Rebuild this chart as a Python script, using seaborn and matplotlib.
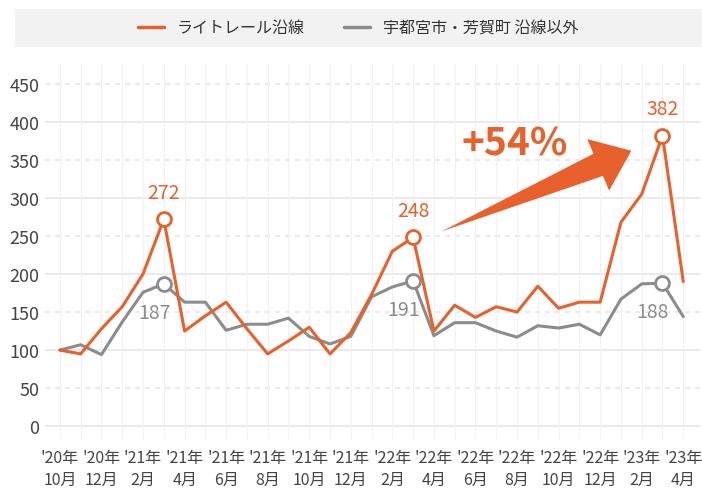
import numpy as np
import pandas as pd
import matplotlib
matplotlib.use("Agg")
import matplotlib.pyplot as plt
from matplotlib.patches import Rectangle, Polygon
from matplotlib.lines import Line2D
from matplotlib.transforms import IdentityTransform
import seaborn as sns

# monthly index, '20年10月 = 100
months = ["'20年\n10月", "'20年\n11月", "'20年\n12月", "'21年\n1月", "'21年\n2月", "'21年\n3月",
          "'21年\n4月", "'21年\n5月", "'21年\n6月", "'21年\n7月", "'21年\n8月", "'21年\n9月",
          "'21年\n10月", "'21年\n11月", "'21年\n12月", "'22年\n1月", "'22年\n2月", "'22年\n3月",
          "'22年\n4月", "'22年\n5月", "'22年\n6月", "'22年\n7月", "'22年\n8月", "'22年\n9月",
          "'22年\n10月", "'22年\n11月", "'22年\n12月", "'23年\n1月", "'23年\n2月", "'23年\n3月",
          "'23年\n4月"]
light_rail = [100, 95, 128, 157, 200, 272, 125, 145, 163, 128, 95, 112, 130, 95, 123, 173,
              230, 248, 125, 159, 143, 157, 150, 184, 155, 163, 163, 268, 305, 382, 190]
others = [100, 107, 94, 137, 176, 187, 163, 163, 126, 134, 134, 142, 118, 108, 118, 170,
          183, 191, 119, 136, 136, 125, 117, 132, 129, 134, 120, 167, 187, 188, 144]
series_names = ["ライトレール沿線", "宇都宮市・芳賀町 沿線以外"]
highlight_idx = [5, 17, 29]

ORANGE = "#e8602c"
GRAY = "#8c8c8c"

df = pd.DataFrame({
    "idx": list(range(len(months))) * 2,
    "value": light_rail + others,
    "series": [series_names[0]] * len(months) + [series_names[1]] * len(months),
})

sns.set_style("white")
plt.rcParams["font.family"] = ["Noto Sans CJK JP", "DejaVu Sans"]

fig = plt.figure(figsize=(7.02, 4.89), dpi=100)
ax = fig.add_axes([0.064, 0.10, 0.933, 0.767])

# grid
for v in range(0, 451, 50):
    if v % 100 == 0:
        ax.axhline(v, color="#e6e6e6", lw=1.2, zorder=0)
    else:
        ax.axhline(v, color="#e6e6e6", lw=1.2, ls=(0, (3, 3)), zorder=0)
for i in range(len(months)):
    ax.axvline(i, color="#f1f1f1", lw=0.8, zorder=0)

sns.lineplot(data=df, x="idx", y="value", hue="series",
             palette={series_names[0]: ORANGE, series_names[1]: GRAY},
             hue_order=series_names[::-1],
             linewidth=2.2, legend=False, ax=ax, zorder=3)

# open circles + labels
for i in highlight_idx:
    ax.plot(i, light_rail[i], "o", ms=10, mfc="white", mec=ORANGE, mew=2, zorder=5)
    ax.plot(i, others[i], "o", ms=10, mfc="white", mec=GRAY, mew=2, zorder=5)
    ax.annotate(str(light_rail[i]), (i, light_rail[i]), xytext=(0, 12), textcoords="offset points",
                ha="center", va="bottom", color=ORANGE, fontsize=14)
    ax.annotate(str(others[i]), (i, others[i]), xytext=(-7, -13), textcoords="offset points",
                ha="center", va="top", color=GRAY, fontsize=14)

ax.set_xlim(-0.72, 30.8)
ax.set_ylim(-17, 476)

# growth arrow: tapered shaft with a straight-edged head (built in pixels)
tail = ax.transData.transform((18.37, 256))
tip = ax.transData.transform((27.5, 362))
u = (tip - tail) / np.hypot(*(tip - tail))
n = np.array([-u[1], u[0]])
base = tip - u * 36
arrow_pts = [tail, base + n * 12, base + n * 28, tip, base - n * 28, base - n * 12]
ax.add_patch(Polygon(arrow_pts, closed=True, transform=IdentityTransform(),
                     facecolor=ORANGE, edgecolor="none", zorder=6))
ax.text(21.9, 372, "+54%", color=ORANGE, fontsize=28, fontweight="bold",
        ha="center", va="center", zorder=6)

ax.set_yticks(range(0, 451, 50))
ax.set_xticks(range(0, len(months), 2))
ax.set_xticklabels(months[::2], fontsize=11.5, color="#444444", linespacing=1.4)
ax.tick_params(axis="y", labelsize=13, colors="#444444", length=0, pad=4)
ax.tick_params(axis="x", length=0, pad=7)
ax.set_xlabel("")
ax.set_ylabel("")
for s in ax.spines.values():
    s.set_visible(False)

# legend band
fig.patches.append(Rectangle((0.021, 0.902), 0.979, 0.078, transform=fig.transFigure,
                             facecolor="#f2f2f2", edgecolor="none", zorder=0))
handles = [Line2D([], [], color=ORANGE, lw=2.5), Line2D([], [], color=GRAY, lw=2.5)]
fig.legend(handles, series_names, loc="center", bbox_to_anchor=(0.51, 0.941), ncol=2,
           frameon=False, fontsize=11.5, handlelength=1.6, columnspacing=2.5,
           labelcolor="#333333")

fig.savefig("out.png", dpi=100)
